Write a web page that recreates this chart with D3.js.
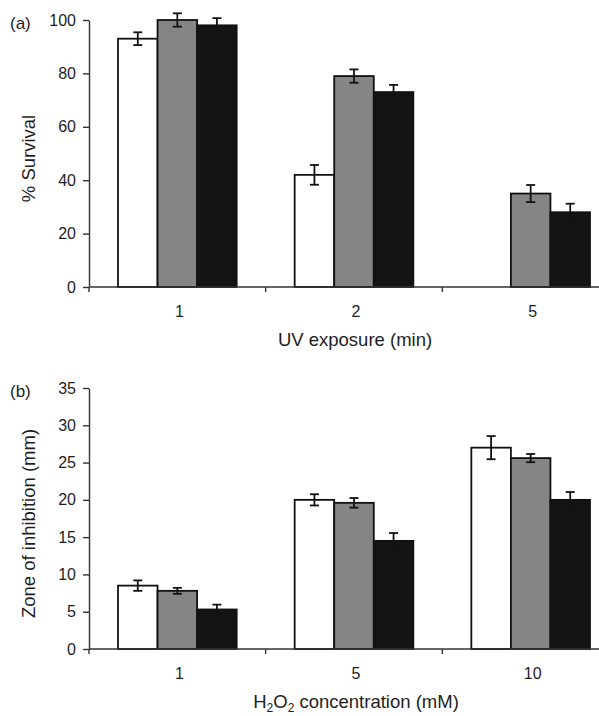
<!DOCTYPE html>
<html>
<head>
<meta charset="utf-8">
<script src="https://cdn.jsdelivr.net/npm/d3@7"></script>
<style>
  html, body { margin: 0; padding: 0; background: #fff; }
  svg { display: block; font-family: "Liberation Sans", Arial, Helvetica, sans-serif; }
</style>
</head>
<body>
<svg id="chart" width="599" height="716"></svg>
<script>
// series order: white, grey, black bars
const seriesNames = ['white', 'grey', 'black'];
const seriesFill = ['#ffffff', '#858585', '#141414'];

// panel (a) UV exposure
const uvCategories = ['1', '2', '5'];
const uvWhite = [93, 42, null];
const uvGrey = [100, 79, 35];
const uvBlack = [98, 73, 28];
const uvWhiteErr = [2.4, 3.7, null];
const uvGreyErr = [2.5, 2.5, 3.2];
const uvBlackErr = [2.7, 2.7, 3.2];
const uvTicks = [0, 20, 40, 60, 80, 100];

// panel (b) H2O2
const hCategories = ['1', '5', '10'];
const hWhite = [8.5, 20.0, 27.0];
const hGrey = [7.8, 19.6, 25.6];
const hBlack = [5.3, 14.5, 20.0];
const hWhiteErr = [0.7, 0.75, 1.55];
const hGreyErr = [0.4, 0.65, 0.55];
const hBlackErr = [0.65, 1.05, 1.05];
const hTicks = [0, 5, 10, 15, 20, 25, 30, 35];

const svg = d3.select('#chart');
const textColor = '#1e1e1e';

function drawPanel(opts) {
  const g = svg.append('g');

  const x0 = d3.scaleBand()
    .domain(opts.categories)
    .range([89, 619]);

  const x1 = d3.scaleBand()
    .domain(seriesNames)
    .range([29, x0.bandwidth() - 29]);

  const y = d3.scaleLinear()
    .domain([0, opts.max])
    .range([opts.bottom, opts.top]);

  // rows: one per category with value & error per series
  const rows = opts.categories.map((c, i) => ({
    cat: c,
    bars: seriesNames.map((s, j) => ({
      series: s,
      fill: seriesFill[j],
      value: opts.values[j][i],
      err: opts.errors[j][i]
    }))
  }));

  // bars
  const grp = g.selectAll('g.cat')
    .data(rows)
    .enter()
    .append('g')
    .attr('class', 'cat')
    .attr('transform', d => `translate(${x0(d.cat)},0)`);

  grp.selectAll('rect')
    .data(d => d.bars.filter(b => b.value != null))
    .enter()
    .append('rect')
    .attr('x', d => x1(d.series))
    .attr('width', x1.bandwidth())
    .attr('y', d => y(d.value))
    .attr('height', d => y(0) - y(d.value))
    .style('fill', d => d.fill)
    .style('stroke', '#111')
    .style('stroke-width', 1.8);

  // error bars
  const eb = grp.selectAll('g.err')
    .data(d => d.bars.filter(b => b.value != null && b.err != null))
    .enter()
    .append('g')
    .attr('class', 'err')
    .style('stroke', '#111')
    .style('stroke-width', 1.8);

  const cx = d => x1(d.series) + x1.bandwidth() / 2;
  eb.append('line')
    .attr('x1', cx).attr('x2', cx)
    .attr('y1', d => y(d.value + d.err))
    .attr('y2', d => y(d.value - d.err));
  eb.append('line')
    .attr('x1', d => cx(d) - 4.5).attr('x2', d => cx(d) + 4.5)
    .attr('y1', d => y(d.value + d.err))
    .attr('y2', d => y(d.value + d.err));
  eb.append('line')
    .attr('x1', d => cx(d) - 4.5).attr('x2', d => cx(d) + 4.5)
    .attr('y1', d => y(d.value - d.err))
    .attr('y2', d => y(d.value - d.err));

  // y axis
  const yAxis = g.append('g')
    .attr('transform', 'translate(89,0)')
    .call(d3.axisLeft(y).tickValues(opts.ticks).tickSize(6).tickPadding(7).tickSizeOuter(0));
  yAxis.select('.domain').style('stroke', '#333').style('stroke-width', 1.4);
  yAxis.selectAll('.tick line').style('stroke', '#333').style('stroke-width', 1.4);
  yAxis.selectAll('.tick text')
    .style('font-size', '16px')
    .style('fill', textColor)
    .attr('font-family', null);

  // x axis line with category boundary ticks
  g.append('line')
    .attr('x1', 89).attr('x2', 599)
    .attr('y1', y(0)).attr('y2', y(0))
    .style('stroke', '#333').style('stroke-width', 1.4);

  const bounds = opts.categories.map(c => x0(c)).concat([x0.range()[1]]);
  g.selectAll('line.xtick')
    .data(bounds)
    .enter()
    .append('line')
    .attr('class', 'xtick')
    .attr('x1', d => d).attr('x2', d => d)
    .attr('y1', y(0)).attr('y2', y(0) + 5)
    .style('stroke', '#333').style('stroke-width', 1.4);

  g.selectAll('text.xlab')
    .data(opts.categories)
    .enter()
    .append('text')
    .attr('class', 'xlab')
    .attr('x', d => x0(d) + x0.bandwidth() / 2 + 2)
    .attr('y', y(0) + 30)
    .attr('text-anchor', 'middle')
    .style('font-size', '16px')
    .style('fill', textColor)
    .text(d => d);

  // panel letter
  g.append('text')
    .attr('x', 10)
    .attr('y', y(opts.max) + 9)
    .style('font-size', '17px')
    .style('fill', textColor)
    .text(opts.letter);

  // y title
  g.append('text')
    .attr('transform', `translate(35,${(y(0) + y(opts.max)) / 2 + 5}) rotate(-90)`)
    .attr('text-anchor', 'middle')
    .style('font-size', '18.5px')
    .style('fill', textColor)
    .text(opts.yTitle);

  return { g, y };
}

drawPanel({
  categories: uvCategories,
  values: [uvWhite, uvGrey, uvBlack],
  errors: [uvWhiteErr, uvGreyErr, uvBlackErr],
  ticks: uvTicks,
  max: 100,
  top: 20,
  bottom: 287,
  letter: '(a)',
  yTitle: '% Survival'
});

svg.append('text')
  .attr('x', 355)
  .attr('y', 346)
  .attr('text-anchor', 'middle')
  .style('font-size', '18.5px')
  .style('fill', textColor)
  .text('UV exposure (min)');

drawPanel({
  categories: hCategories,
  values: [hWhite, hGrey, hBlack],
  errors: [hWhiteErr, hGreyErr, hBlackErr],
  ticks: hTicks,
  max: 35,
  top: 388,
  bottom: 649,
  letter: '(b)',
  yTitle: 'Zone of inhibition (mm)'
});

const hTitle = svg.append('text')
  .attr('x', 356)
  .attr('y', 708)
  .attr('text-anchor', 'middle')
  .style('font-size', '18.5px')
  .style('fill', textColor);
hTitle.append('tspan').text('H');
hTitle.append('tspan').attr('dy', 4).style('font-size', '12px').text('2');
hTitle.append('tspan').attr('dy', -4).text('O');
hTitle.append('tspan').attr('dy', 4).style('font-size', '12px').text('2');
hTitle.append('tspan').attr('dy', -4).text(' concentration (mM)');
</script>
</body>
</html>
